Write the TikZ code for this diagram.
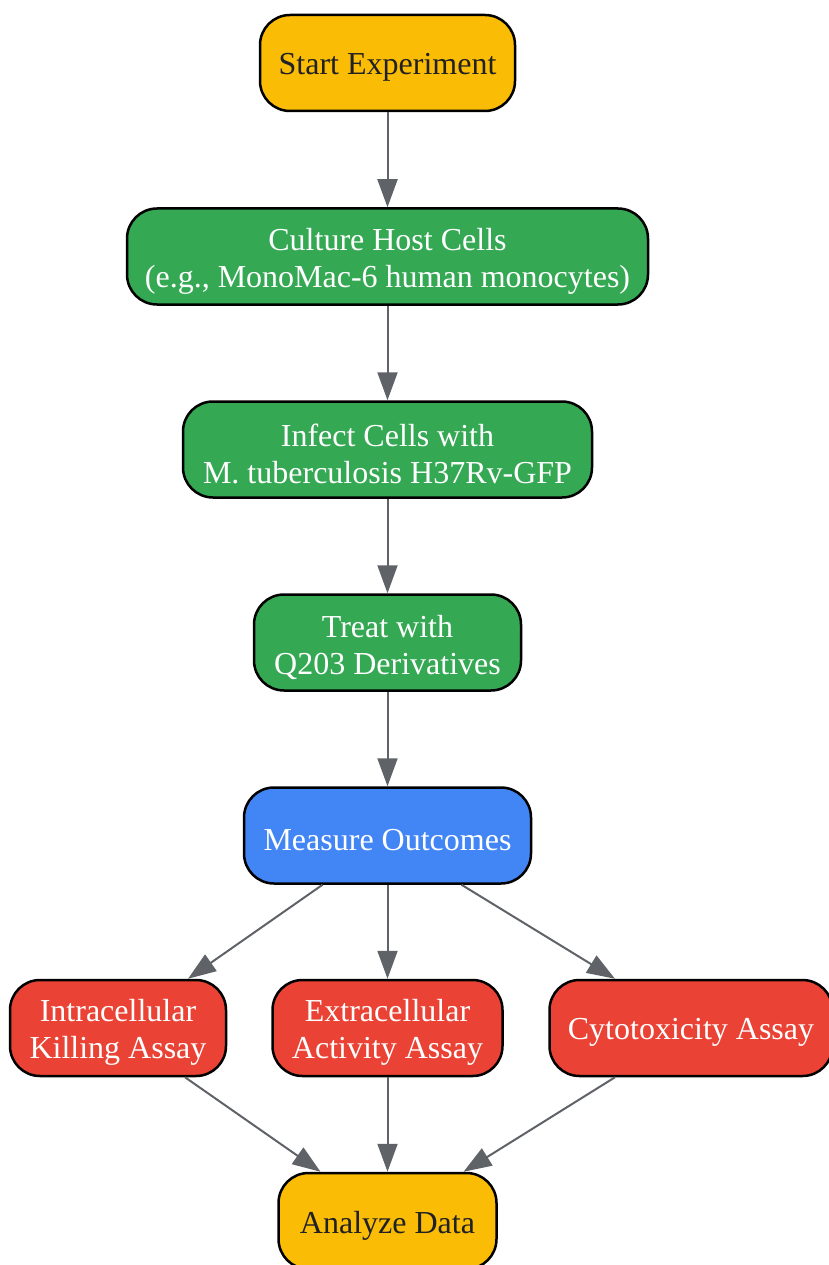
\documentclass[tikz,border=0pt]{standalone}
\usepackage{fontspec}
\setmainfont{Liberation Serif}
\usetikzlibrary{arrows.meta}
\definecolor{gyellow}{HTML}{FBBC05}
\definecolor{ggreen}{HTML}{34A853}
\definecolor{gblue}{HTML}{4285F4}
\definecolor{gred}{HTML}{EA4335}
\definecolor{gtext}{HTML}{202124}
\definecolor{garrow}{HTML}{5F6368}
\begin{document}
\begin{tikzpicture}[x=1pt,y=-1pt,
  box/.style={draw=black, line width=2.5pt, rounded corners=30pt, minimum height=96pt, inner sep=0pt},
  ybox/.style={box, fill=gyellow},
  gbox/.style={box, fill=ggreen},
  bbox/.style={box, fill=gblue},
  rbox/.style={box, fill=gred},
  lbl/.style={align=center, inner sep=0pt, yshift=-4.5pt, font=\fontsize{32}{37}\selectfont, text=white},
  dlbl/.style={lbl, text=gtext},
  conn/.style={draw=garrow, line width=2pt, -{Triangle[length=28pt,width=20pt]}}]
\useasboundingbox (0,0) rectangle (829,1265);
\node[ybox, minimum width=255pt] (start) at (387.5,63) {};
\node[dlbl] (startL) at (start.center) {Start Experiment};
\node[gbox, minimum width=521pt] (culture) at (387.5,256.5) {};
\node[lbl] (cultureL) at (culture.center) {Culture Host Cells\\(e.g., MonoMac-6 human monocytes)};
\node[gbox, minimum width=409pt] (infect) at (387.5,449.5) {};
\node[lbl] (infectL) at (infect.center) {Infect Cells with\\M. tuberculosis H37Rv-GFP};
\node[gbox, minimum width=267pt] (treat) at (387.5,642.5) {};
\node[lbl] (treatL) at (treat.center) {Treat with\\Q203 Derivatives};
\node[bbox, minimum width=287pt] (measure) at (387.5,835.5) {};
\node[lbl] (measureL) at (measure.center) {Measure Outcomes};
\node[rbox, minimum width=216pt] (intra) at (118,1028) {};
\node[lbl] (intraL) at (intra.center) {Intracellular\\Killing Assay};
\node[rbox, minimum width=230pt] (extra) at (387.5,1028) {};
\node[lbl] (extraL) at (extra.center) {Extracellular\\Activity Assay};
\node[rbox, minimum width=283pt] (cyto) at (691,1028) {};
\node[lbl] (cytoL) at (cyto.center) {Cytotoxicity Assay};
\node[ybox, minimum width=218pt] (analyze) at (387.5,1221) {};
\node[dlbl] (analyzeL) at (analyze.center) {Analyze Data};
\draw[conn] (start) -- (culture);
\draw[conn] (culture) -- (infect);
\draw[conn] (infect) -- (treat);
\draw[conn] (treat) -- (measure);
\draw[conn] ([xshift=-65pt]measure.south) -- ([xshift=70pt]intra.north);
\draw[conn] (measure) -- (extra);
\draw[conn] ([xshift=74pt]measure.south) -- ([xshift=-76pt]cyto.north);
\draw[conn] ([xshift=67pt]intra.south) -- ([xshift=-67pt]analyze.north);
\draw[conn] (extra) -- (analyze);
\draw[conn] ([xshift=-76pt]cyto.south) -- ([xshift=76pt]analyze.north);
\end{tikzpicture}
\end{document}
